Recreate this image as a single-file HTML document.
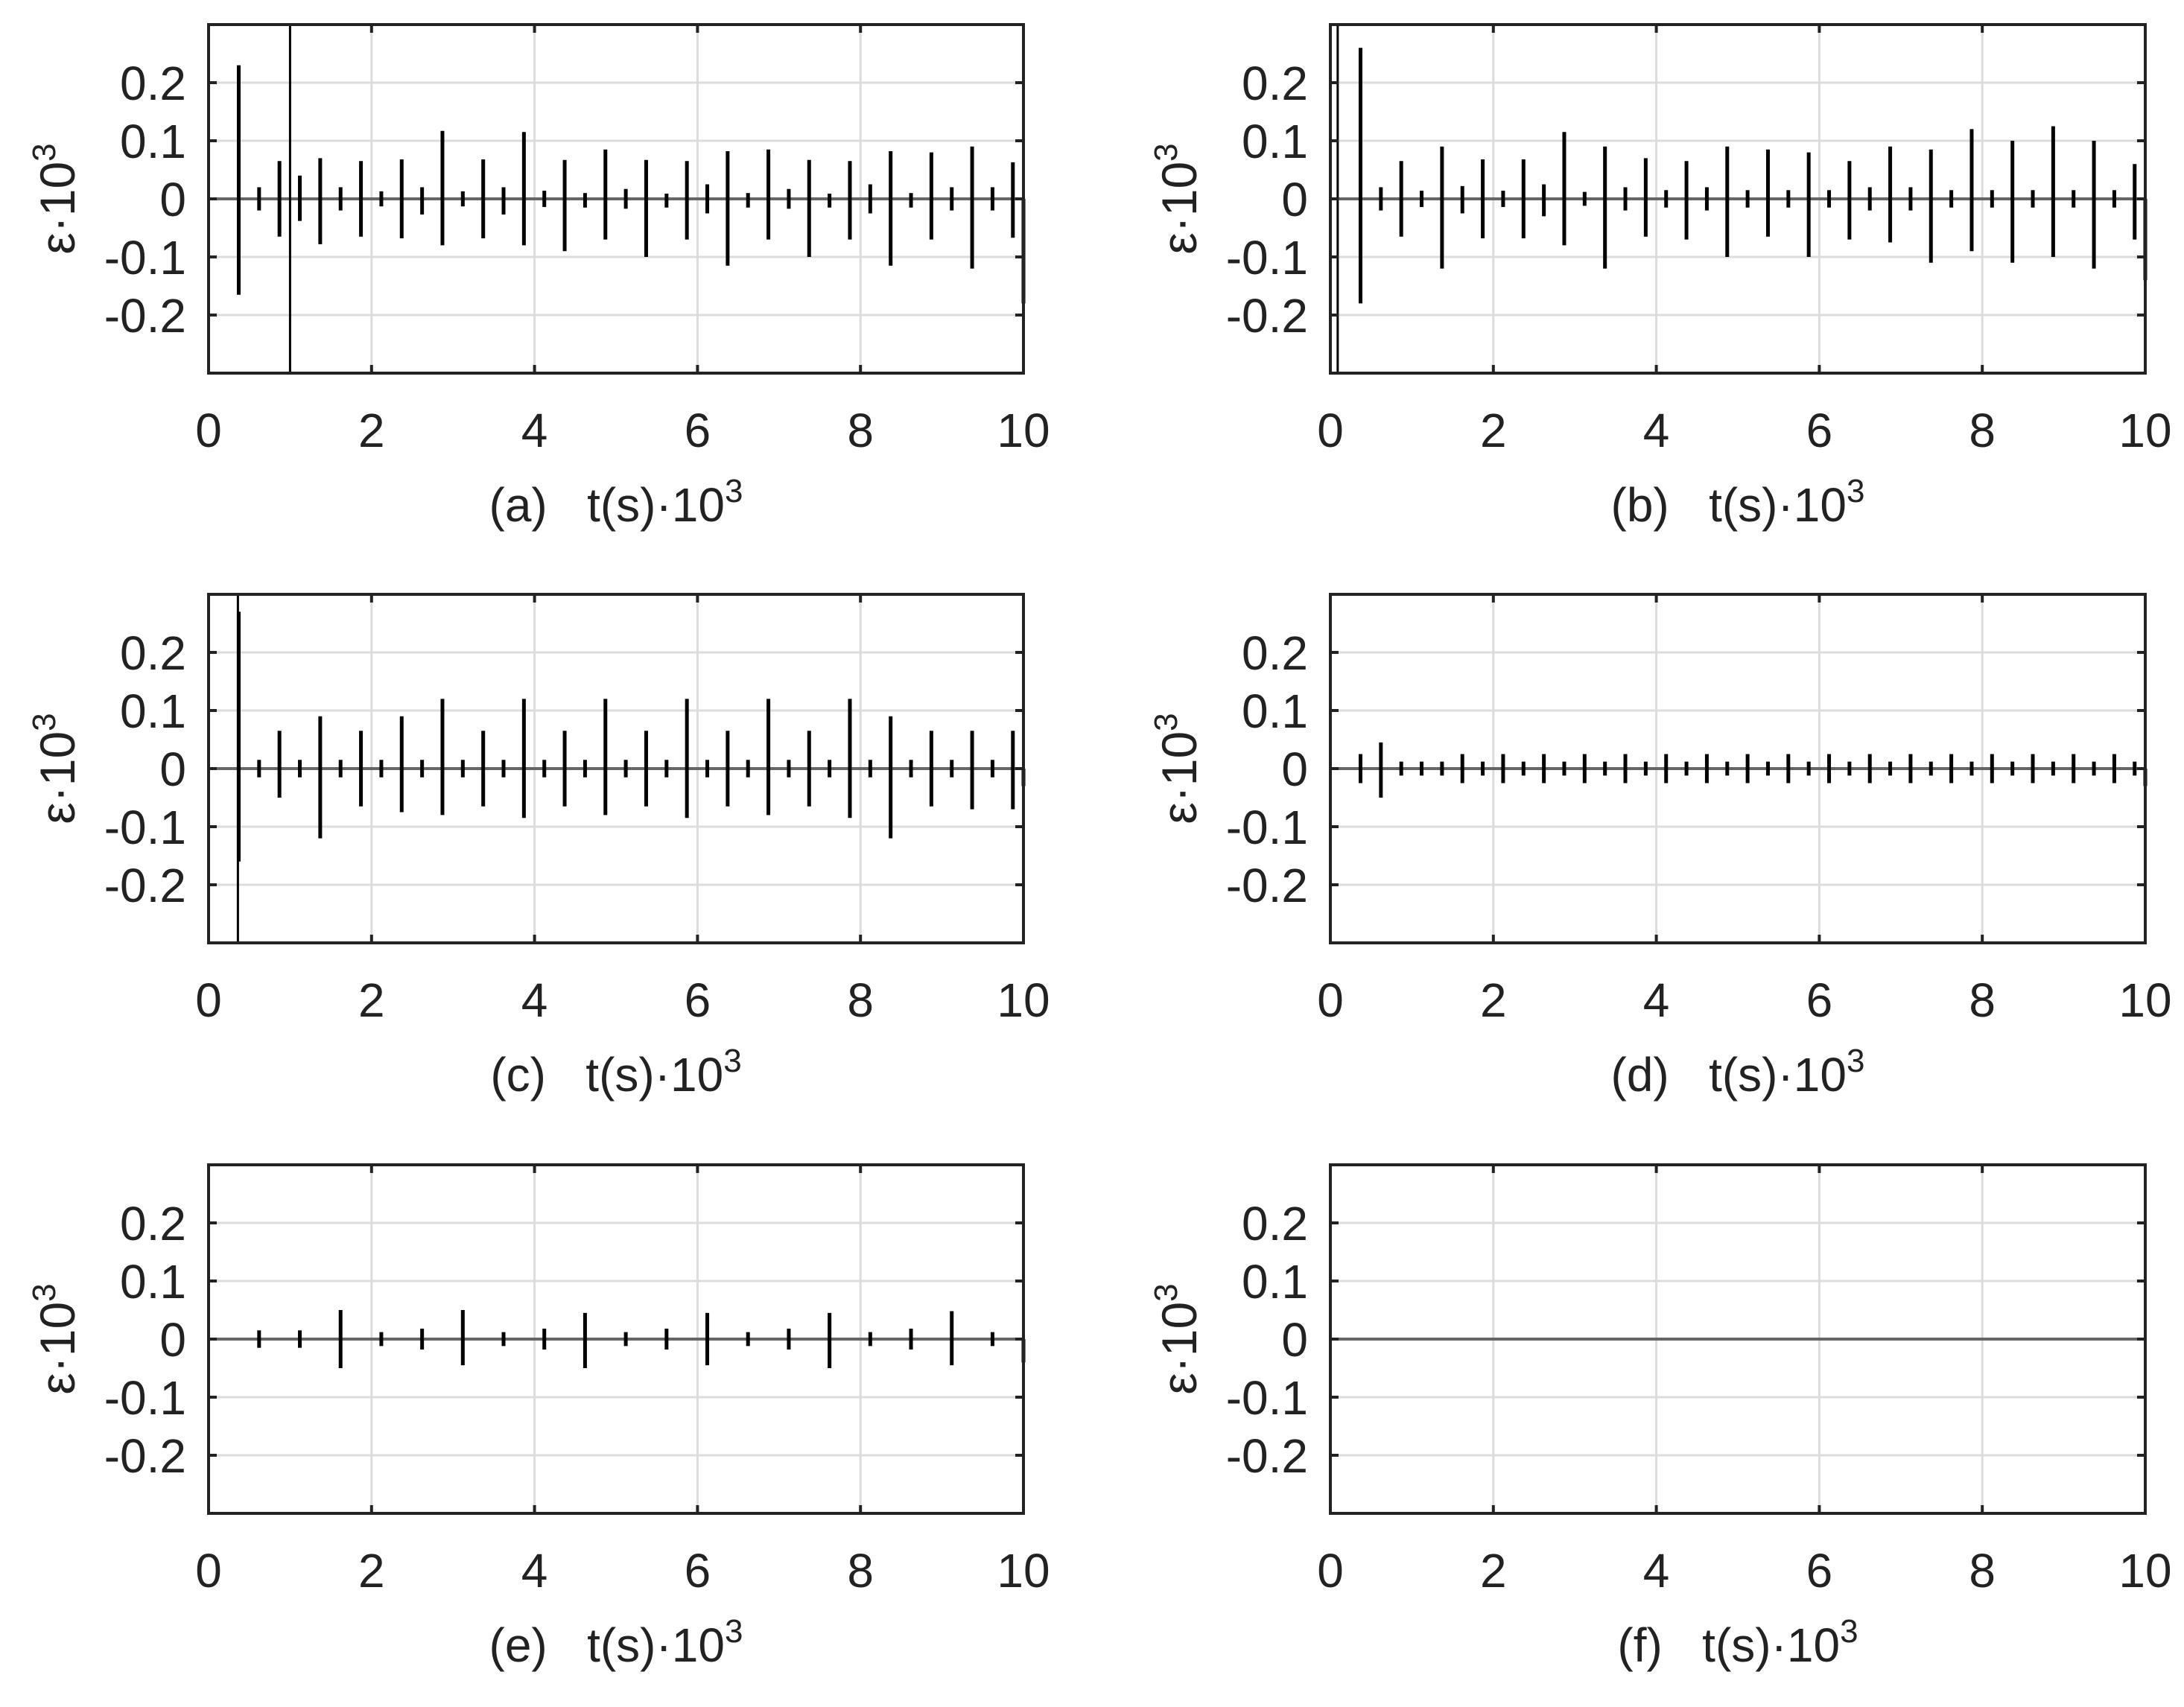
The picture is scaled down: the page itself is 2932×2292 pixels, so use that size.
<!DOCTYPE html>
<html><head><meta charset="utf-8">
<style>
html,body{margin:0;padding:0;background:#fff;}
svg{display:block;}
text{font-family:"Liberation Sans",sans-serif;fill:#222;}
</style></head>
<body>
<svg id="fig" width="2932" height="2292" viewBox="0 0 2932 2292" xmlns="http://www.w3.org/2000/svg"></svg>
<script>
const xTicks=[0,2,4,6,8,10];
const yTicks=[0.2,0.1,0,-0.1,-0.2];
const yTickLabels=["0.2","0.1","0","-0.1","-0.2"];
const panelLetters=["a","b","c","d","e","f"];
const spikeTimes=[0.37,0.62,0.87,1.12,1.37,1.62,1.87,2.12,2.37,2.62,2.87,3.12,3.37,3.62,3.87,4.12,4.37,4.62,4.87,5.12,5.37,5.62,5.87,6.12,6.37,6.62,6.87,7.12,7.37,7.62,7.87,8.12,8.37,8.62,8.87,9.12,9.37,9.62,9.87,10];
const aMax=[0.23,0.02,0.065,0.04,0.07,0.02,0.065,0.013,0.068,0.02,0.117,0.013,0.068,0.02,0.115,0.014,0.067,0.01,0.085,0.017,0.067,0.009,0.065,0.025,0.082,0.01,0.085,0.017,0.067,0.009,0.065,0.025,0.082,0.01,0.08,0.02,0.09,0.02,0.063,0];
const aMin=[-0.165,-0.02,-0.065,-0.038,-0.078,-0.02,-0.065,-0.013,-0.068,-0.027,-0.08,-0.013,-0.068,-0.027,-0.08,-0.014,-0.09,-0.015,-0.07,-0.017,-0.1,-0.015,-0.07,-0.025,-0.115,-0.015,-0.07,-0.017,-0.1,-0.015,-0.07,-0.025,-0.115,-0.015,-0.07,-0.02,-0.12,-0.02,-0.067,-0.18];
const bMax=[0.26,0.02,0.065,0.014,0.09,0.022,0.068,0.014,0.068,0.025,0.115,0.012,0.09,0.02,0.07,0.015,0.065,0.02,0.09,0.015,0.085,0.015,0.08,0.015,0.065,0.02,0.09,0.02,0.085,0.015,0.12,0.015,0.1,0.015,0.125,0.015,0.1,0.015,0.06,0];
const bMin=[-0.18,-0.02,-0.065,-0.014,-0.12,-0.025,-0.068,-0.014,-0.068,-0.03,-0.08,-0.012,-0.12,-0.02,-0.065,-0.015,-0.07,-0.02,-0.1,-0.015,-0.065,-0.015,-0.1,-0.015,-0.07,-0.02,-0.075,-0.02,-0.11,-0.015,-0.09,-0.015,-0.11,-0.015,-0.1,-0.015,-0.12,-0.015,-0.07,-0.14];
const cMax=[0.27,0.015,0.065,0.015,0.09,0.015,0.065,0.015,0.09,0.015,0.12,0.015,0.065,0.015,0.12,0.015,0.065,0.015,0.12,0.015,0.065,0.015,0.12,0.015,0.065,0.015,0.12,0.015,0.065,0.015,0.12,0.015,0.09,0.015,0.065,0.015,0.065,0.015,0.065,0];
const cMin=[-0.16,-0.015,-0.05,-0.015,-0.12,-0.015,-0.065,-0.015,-0.075,-0.015,-0.08,-0.015,-0.065,-0.015,-0.085,-0.015,-0.065,-0.015,-0.08,-0.015,-0.065,-0.015,-0.085,-0.015,-0.065,-0.015,-0.08,-0.015,-0.065,-0.015,-0.085,-0.015,-0.12,-0.015,-0.065,-0.015,-0.07,-0.015,-0.07,-0.03];
const dMax=[0.025,0.045,0.012,0.012,0.012,0.025,0.012,0.025,0.012,0.025,0.012,0.025,0.012,0.025,0.012,0.025,0.012,0.025,0.012,0.025,0.012,0.025,0.012,0.025,0.012,0.025,0.012,0.025,0.012,0.025,0.012,0.025,0.012,0.025,0.012,0.025,0.012,0.025,0.012,0];
const dMin=[-0.025,-0.05,-0.012,-0.012,-0.012,-0.025,-0.012,-0.025,-0.012,-0.025,-0.012,-0.025,-0.012,-0.025,-0.012,-0.025,-0.012,-0.025,-0.012,-0.025,-0.012,-0.025,-0.012,-0.025,-0.012,-0.025,-0.012,-0.025,-0.012,-0.025,-0.012,-0.025,-0.012,-0.025,-0.012,-0.025,-0.012,-0.025,-0.012,-0.03];
const eMax=[0,0.015,0,0.015,0,0.05,0,0.012,0,0.018,0,0.05,0,0.012,0,0.018,0,0.045,0,0.012,0,0.018,0,0.045,0,0.012,0,0.018,0,0.045,0,0.012,0,0.018,0,0.048,0,0.012,0,0];
const eMin=[0,-0.015,0,-0.015,0,-0.05,0,-0.012,0,-0.018,0,-0.045,0,-0.012,0,-0.018,0,-0.05,0,-0.012,0,-0.018,0,-0.045,0,-0.012,0,-0.018,0,-0.05,0,-0.012,0,-0.018,0,-0.045,0,-0.012,0,-0.04];
const fMax=spikeTimes.map(()=>0);
const fMin=spikeTimes.map(()=>0);
const vLineTimes=[1.0,0.09,0.36,null,null,null];

const panels=[
 {x:280,y:33,max:aMax,min:aMin},
 {x:1786,y:33,max:bMax,min:bMin},
 {x:280,y:798,max:cMax,min:cMin},
 {x:1786,y:798,max:dMax,min:dMin},
 {x:280,y:1564,max:eMax,min:eMin},
 {x:1786,y:1564,max:fMax,min:fMin}
];
const W=1094,H=468,NS="http://www.w3.org/2000/svg";
const svg=document.getElementById('fig');
function mk(tag,attrs,parent){const e=document.createElementNS(NS,tag);for(const k in attrs)e.setAttribute(k,attrs[k]);(parent||svg).appendChild(e);return e;}

panels.forEach((p,i)=>{
 const g=mk('g',{});
 
 
 const sx=t=>p.x+t/10*W;
 const sy=v=>p.y+H/2-v/0.3*(H/2);
 xTicks.forEach(t=>{
  const l=mk('line',{x1:sx(t),x2:sx(t),y1:p.y,y2:p.y+H,stroke:'#dcdcdc','stroke-width':3},g);
  
  
 });
 yTicks.forEach(v=>{
  const l=mk('line',{x1:p.x,x2:p.x+W,y1:sy(v),y2:sy(v),stroke:'#dcdcdc','stroke-width':3},g);
  
  
 });
 const z=mk('line',{x1:p.x,x2:p.x+W,y1:sy(0),y2:sy(0),stroke:'#666','stroke-width':4},g);
 
 
 spikeTimes.forEach((t,k)=>{
  if(p.max[k]===0&&p.min[k]===0)return;
  const l=mk('line',{x1:sx(t),x2:sx(t),y1:sy(p.max[k]),y2:sy(p.min[k]),stroke:'#000','stroke-width':5},g);
  
  
 });
 if(vLineTimes[i]!==null){
  const l=mk('line',{x1:sx(vLineTimes[i]),x2:sx(vLineTimes[i]),y1:p.y,y2:p.y+H,stroke:'#000','stroke-width':3},g);
  
  
 }
 const fr=mk('rect',{x:p.x,y:p.y,width:W,height:H,fill:'none',stroke:'#222','stroke-width':4},g);
 
 
 xTicks.forEach(t=>{
  mk('line',{x1:sx(t),x2:sx(t),y1:p.y+H,y2:p.y+H-11,stroke:'#222','stroke-width':4},g);
  mk('line',{x1:sx(t),x2:sx(t),y1:p.y,y2:p.y+11,stroke:'#222','stroke-width':4},g);
  const tx=mk('text',{x:sx(t),y:p.y+H+99,'font-size':64,'text-anchor':'middle'},g);
  tx.textContent=String(t);
  
  
 });
 yTicks.forEach((v,k)=>{
  mk('line',{x1:p.x,x2:p.x+11,y1:sy(v),y2:sy(v),stroke:'#222','stroke-width':4},g);
  mk('line',{x1:p.x+W,x2:p.x+W-11,y1:sy(v),y2:sy(v),stroke:'#222','stroke-width':4},g);
  const tx=mk('text',{x:p.x-30,y:sy(v)+23,'font-size':64,'text-anchor':'end'},g);
  tx.textContent=yTickLabels[k];
  
  
 });
 const yl=mk('text',{x:0,y:0,'font-size':66,'text-anchor':'middle',transform:`translate(${p.x-180},${p.y+H/2}) rotate(-90)`},g);
 yl.innerHTML='ε·10<tspan dy="-26" font-size="44">3</tspan>';
 
 
 const xl=mk('text',{x:p.x+W/2,y:p.y+H+199,'font-size':64,'text-anchor':'middle'},g);
 xl.innerHTML='('+panelLetters[i]+')\u00a0\u00a0\u00a0t(s)·10<tspan dy="-26" font-size="44">3</tspan>';
 
 
});
</script>
</body></html>
